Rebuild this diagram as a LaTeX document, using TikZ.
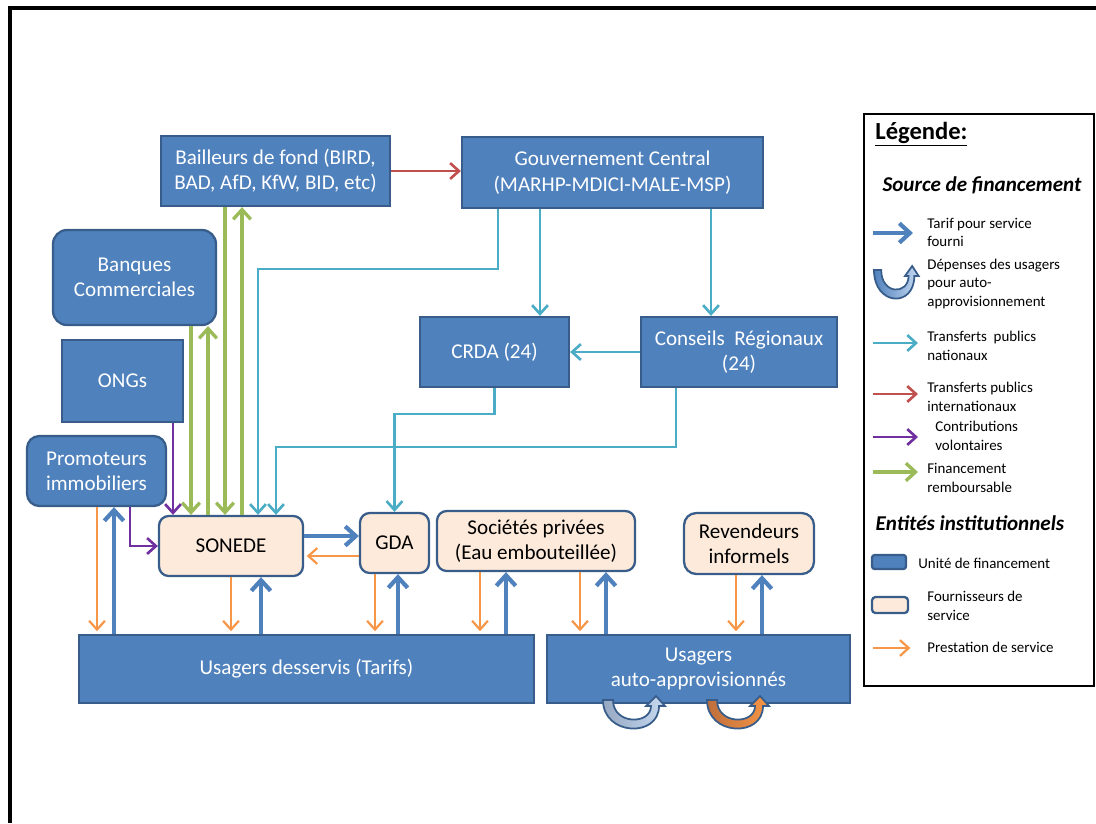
\documentclass[tikz,border=0pt]{standalone}
\usepackage{fontspec}
\setmainfont{Carlito}
\usetikzlibrary{arrows.meta}

\definecolor{boxblue}{RGB}{79,129,189}
\definecolor{boxedge}{RGB}{56,93,138}
\definecolor{peach}{RGB}{253,234,218}
\definecolor{natcyan}{RGB}{75,172,198}
\definecolor{loangreen}{RGB}{155,187,89}
\definecolor{volpurple}{RGB}{112,48,160}
\definecolor{servorange}{RGB}{247,150,70}
\definecolor{intlred}{RGB}{192,80,77}
\definecolor{palefill}{RGB}{198,217,241}
\definecolor{greyfill}{RGB}{150,168,194}
\definecolor{brownfill}{RGB}{190,110,60}

\tikzset{
  fund/.style={draw=boxedge, fill=boxblue, line width=1.3pt, text=white, align=center,
    inner sep=0pt, font=\fontsize{12}{14.4}\selectfont},
  supplier/.style={fund, fill=peach, text=black, rounded corners=5.5pt},
  tarif/.style={->, draw=boxblue, line width=2.4pt, >={Straight Barb[length=6pt,width=11pt]}},
  nat/.style={->, draw=natcyan, line width=1.5pt, >={Straight Barb[length=5pt,width=9pt]}},
  intl/.style={->, draw=intlred, line width=1.5pt, >={Straight Barb[length=5pt,width=9pt]}},
  vol/.style={->, draw=volpurple, line width=1.5pt, >={Straight Barb[length=5pt,width=9pt]}},
  loan/.style={->, draw=loangreen, line width=1.9pt, >={Straight Barb[length=5.5pt,width=10pt]}},
  service/.style={->, draw=servorange, line width=1.25pt, shorten >=1.5pt, >={Straight Barb[length=5pt,width=9pt]}},
  lgtext/.style={anchor=west, align=left, inner sep=0pt, font=\fontsize{8.5}{10.5}\selectfont},
  heading/.style={inner sep=0pt, font=\fontsize{12}{14.4}\selectfont\bfseries\itshape},
  uturn/.pic={
    \filldraw[draw=boxedge, line width=1pt, pic actions] (0,0) .. controls (0,36) and (56,38) .. (56,6)
      -- (62,6) -- (53,-4) -- (43,6) -- (48,6) .. controls (48,25) and (10,25) .. (10,0) -- cycle;
  }
}

\begin{document}
\begin{tikzpicture}[x=0.02cm, y=-0.02cm]
\useasboundingbox (0,0) rectangle (1096,823);
% page frame
\draw[line width=2.3pt] (10,823) -- (10,8) -- (1096,8);

% financing units
\node[fund, minimum width=4.58cm, minimum height=1.40cm] (bailleurs) at (275.5,171) {Bailleurs de fond (BIRD,\\BAD, AfD, KfW, BID, etc)};
\node[fund, minimum width=6.02cm, minimum height=1.42cm] (gouv) at (612.5,172.5) {Gouvernement Central\\(MARHP-MDICI-MALE-MSP)};
\node[fund, rounded corners=8pt, minimum width=3.26cm, minimum height=1.90cm] (banques) at (134.5,277.5) {Banques\\Commerciales};
\node[fund, minimum width=2.42cm, minimum height=1.64cm] (ongs) at (122.5,381) {ONGs};
\node[fund, rounded corners=7pt, minimum width=2.78cm, minimum height=1.40cm] (promoteurs) at (96.5,471) {Promoteurs\\immobiliers};
\node[fund, minimum width=2.98cm, minimum height=1.40cm] (crda) at (494.5,352) {CRDA (24)};
\node[fund, minimum width=3.92cm, minimum height=1.40cm] (conseils) at (739,352) {Conseils~~Régionaux\\(24)};
\node[fund, minimum width=9.10cm, minimum height=1.36cm] (desservis) at (306.5,669) {Usagers desservis (Tarifs)};
\node[fund, minimum width=6.06cm, minimum height=1.36cm] (auto) at (698.5,669) {Usagers\\auto-approvisionnés};

% service providers
\node[supplier, minimum width=2.88cm, minimum height=1.20cm] (sonede) at (231,546) {SONEDE};
\node[supplier, minimum width=1.38cm, minimum height=1.20cm] (gda) at (394.5,543) {GDA};
\node[supplier, minimum width=3.96cm, minimum height=1.20cm] (societes) at (536,541) {Sociétés privées\\(Eau embouteillée)};
\node[supplier, rounded corners=7pt, minimum width=2.60cm, minimum height=1.22cm] (revendeurs) at (749,543.5) {Revendeurs\\informels};

% international and national transfers
\draw[intl] (bailleurs.east) -- (bailleurs.east -| gouv.west);
\draw[nat] (gouv.south -| 498,0) -- ++(0,60) -| (sonede.north -| 258,0);
\draw[nat] (gouv.south -| 540,0) -- (crda.north -| 540,0);
\draw[nat] (gouv.south -| 711,0) -- (conseils.north -| 711,0);
\draw[nat] (conseils.west) -- (crda.east);
\draw[nat] (crda.south) -- ++(0,26) -| (gda.north);
\draw[nat] (conseils.south -| 676,0) -- ++(0,59) -| (sonede.north -| 276,0);

% loans and contributions
\draw[loan] (banques.south -| 191,0) -- (sonede.north -| 191,0);
\draw[loan] (sonede.north -| 208,0) -- (banques.south -| 208,0);
\draw[loan] (bailleurs.south -| 225,0) -- (sonede.north -| 225,0);
\draw[loan] (sonede.north -| 242,0) -- (bailleurs.south -| 242,0);
\draw[vol] (ongs.south -| 173,0) -- (sonede.north -| 173,0);
\draw[vol] (promoteurs.south -| 130,0) |- (sonede.west);

% tariffs and services
\draw[tarif] (sonede.east |- 0,536) -- (gda.west |- 0,536);
\draw[service] (gda.west |- 0,556) -- (sonede.east |- 0,556);
\draw[service] (promoteurs.south -| 97,0) -- (desservis.north -| 97,0);
\draw[tarif] (desservis.north -| 114,0) -- (promoteurs.south -| 114,0);
\draw[service] (sonede.south -| 231,0) -- (desservis.north -| 231,0);
\draw[tarif] (desservis.north -| 261,0) -- (sonede.south -| 261,0);
\draw[service] (gda.south -| 375,0) -- (desservis.north -| 375,0);
\draw[tarif] (desservis.north -| 398,0) -- (gda.south -| 398,0);
\draw[service] (societes.south -| 480,0) -- (desservis.north -| 480,0);
\draw[tarif] (desservis.north -| 506,0) -- (societes.south -| 506,0);
\draw[service] (societes.south -| 580,0) -- (auto.north -| 580,0);
\draw[tarif] (auto.north -| 606,0) -- (societes.south -| 606,0);
\draw[service] (revendeurs.south -| 736,0) -- (auto.north -| 736,0);
\draw[tarif] (auto.north -| 762,0) -- (revendeurs.south -| 762,0);

% self-supply spending
\pic[left color=greyfill, right color=palefill] (spendA) at (603,700) {uturn};
\pic[left color=brownfill, right color=servorange] (spendB) at (707,700) {uturn};

% legend
\node[draw, line width=0.8pt, minimum width=4.6cm, minimum height=11.44cm, inner sep=0pt] (legende) at (979,400) {};
\node[anchor=base west, inner sep=0pt, font=\fontsize{14}{16}\selectfont\bfseries] (lgtitle) at (875,139) {\underline{Légende:}};
\node[heading, anchor=base] (lgsource) at (982,191) {Source de financement};
\draw[tarif] (873,233) -- (913,233);
\node[lgtext] (lgtarif) at (927,232.5) {Tarif pour service\\fourni};
\pic[left color=boxblue, right color=palefill, xscale=0.72] (lgspend) at (874,270) {uturn};
\node[lgtext] (lgdepenses) at (927,284) {Dépenses des usagers\\pour auto-\\approvisionnement};
\draw[nat] (873,343) -- (918,343);
\node[lgtext] (lgnat) at (927,346) {Transferts~~publics\\nationaux};
\draw[intl] (873,394) -- (918,394);
\node[lgtext] (lgintl) at (927,397) {Transferts publics\\internationaux};
\draw[vol] (873,437) -- (918,437);
\node[lgtext] (lgvol) at (935,436) {Contributions\\volontaires};
\draw[loan] (873,472) -- (918,472);
\node[lgtext] (lgloan) at (927,478) {Financement\\remboursable};
\node[heading, anchor=base] (lgentites) at (970,530) {Entités institutionnels};
\draw[draw=boxedge, fill=boxblue, line width=1.3pt, rounded corners=1.5pt] (872,555) rectangle (906,569);
\node[lgtext] (lgfund) at (918,563) {Unité de financement};
\draw[draw=boxedge, fill=peach, line width=1.3pt, rounded corners=2pt] (872,597) rectangle (908,613);
\node[lgtext] (lgsupplier) at (927,606) {Fournisseurs de\\service};
\draw[service] (873,648) -- (913,648);
\node[lgtext] (lgservice) at (927,647) {Prestation de service};
\end{tikzpicture}
\end{document}
